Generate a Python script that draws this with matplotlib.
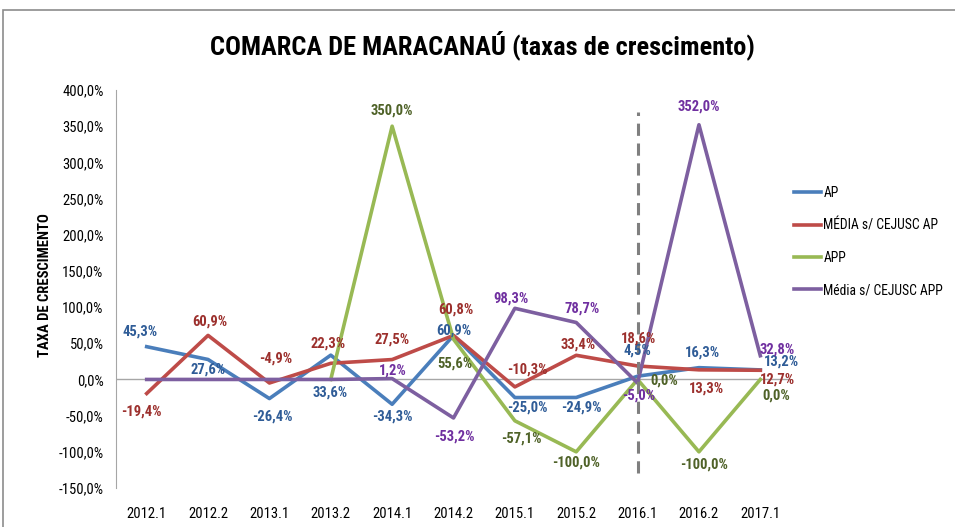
import numpy as np
import matplotlib.pyplot as plt
from matplotlib.patches import Rectangle

periods = ['2012.1', '2012.2', '2013.1', '2013.2', '2014.1', '2014.2',
           '2015.1', '2015.2', '2016.1', '2016.2', '2017.1']

ap = [45.3, 27.6, -26.4, 33.6, -34.3, 60.9, -25.0, -24.9, 4.5, 16.3, 13.2]
media_ap = [-19.4, 60.9, -4.9, 22.3, 27.5, 60.8, -10.3, 33.4, 18.6, 13.3, 12.7]
app = [np.nan, np.nan, np.nan, 0.0, 350.0, 55.6, -57.1, -100.0, 0.0, -100.0, 0.0]
media_app = [0.0, 0.0, 0.0, 0.0, 1.2, -53.2, 98.3, 78.7, -5.0, 352.0, 32.8]

# which points get a data label
app_labeled = [False, False, False, False, True, True, True, True, True, True, True]
media_app_labeled = [False, False, False, False, True, True, True, True, True, True, True]

# label offsets in pixels (dx, dy)
off_ap = [(-7, 15), (0, -10), (3, -18), (-1, -37), (0, -12), (0, 5),
          (13, -10), (5, -10), (0, 26), (3, 15), (21, 8)]
off_media_ap = [(-5, -18), (2, 14), (6, 24), (-3, 20), (0, 20), (2, 26),
                (13, 17), (2, 11), (1, 27), (7, -19), (17, -9)]
off_app = [None, None, None, None, (0, 16), (1, -24), (7, -18), (0, -11),
           (27, -1), (5, -13), (16, -16)]
off_media_app = [None, None, None, None, (1, 8), (1, -19), (-4, 10), (6, 14),
                 (1, -12), (0, 18), (17, 6)]

FONT = ['DejaVu Sans Condensed', 'Liberation Sans Narrow', 'Roboto Condensed',
        'Lato', 'DejaVu Sans']
plt.rcParams['font.family'] = FONT

fig = plt.figure(figsize=(9.55, 5.27), dpi=100)
ax = fig.add_axes([116 / 955, 1 - 488 / 527, 675 / 955, 398 / 527])

x = np.arange(len(periods))
series = [
    ('AP', ap, '#4A7EBB', '#2F5C97', off_ap, [True] * 11),
    ('MÉDIA s/ CEJUSC AP', media_ap, '#BE4B48', '#9C302D', off_media_ap, [True] * 11),
    ('APP', app, '#98B954', '#4F6228', off_app, app_labeled),
    ('Média s/ CEJUSC APP', media_app, '#7D5FA0', '#7030A0', off_media_app, media_app_labeled),
]

ax.axhline(0, color='#A6A6A6', lw=1, zorder=1)

for name, vals, col, lcol, offs, labeled in series:
    ax.plot(x, vals, color=col, lw=2.6, label=name, zorder=3)
    for xi, v, o, lab in zip(x, vals, offs, labeled):
        if not lab or o is None:
            continue
        txt = f'{v:.1f}%'.replace('.', ',')
        ax.annotate(txt, (xi, v), xytext=o, textcoords='offset pixels',
                    ha='center', va='center', color=lcol, fontsize=10.5,
                    fontweight='bold', zorder=5)

ax.axvline(8, ymin=0.038, ymax=0.945, color='#7F7F7F', lw=2.2,
           ls=(0, (4, 2.5)), zorder=4)

ax.set_xlim(-0.5, len(periods) - 0.5)
ax.set_ylim(-150, 400)
ax.set_yticks(np.arange(-150, 401, 50))
ax.set_yticklabels([f'{t:.1f}%'.replace('.', ',') for t in np.arange(-150, 401, 50)],
                   fontsize=10.5)
ax.set_xticks(x)
ax.set_xticklabels(periods, fontsize=10.5)
ax.tick_params(axis='x', length=0, pad=14)
ax.tick_params(axis='y', length=0, pad=9)
for s in ['top', 'right', 'bottom']:
    ax.spines[s].set_visible(False)
ax.spines['left'].set_color('#A6A6A6')

fig.text(45 / 955, 1 - 285 / 527, 'TAXA DE CRESCIMENTO', rotation=90,
         ha='center', va='center', fontsize=10.5, fontweight='bold')
fig.text(482 / 955, 1 - 45 / 527, 'COMARCA DE MARACANAÚ (taxas de crescimento)',
         ha='center', va='center', fontsize=19, fontweight='bold')

leg = ax.legend(loc='upper left', bbox_to_anchor=(794 / 955, 1 - 186 / 527),
                bbox_transform=fig.transFigure, frameon=False, fontsize=9.8,
                handlelength=2.0, handletextpad=0.15, labelspacing=1.35,
                borderpad=0, borderaxespad=0)

fig.patches.append(Rectangle((3 / 955, -0.1), 1.2, (527 - 10) / 527 + 0.1,
                             transform=fig.transFigure, fill=False,
                             edgecolor='#8C8C8C', lw=1.2))

fig.savefig('out.png', dpi=100)
